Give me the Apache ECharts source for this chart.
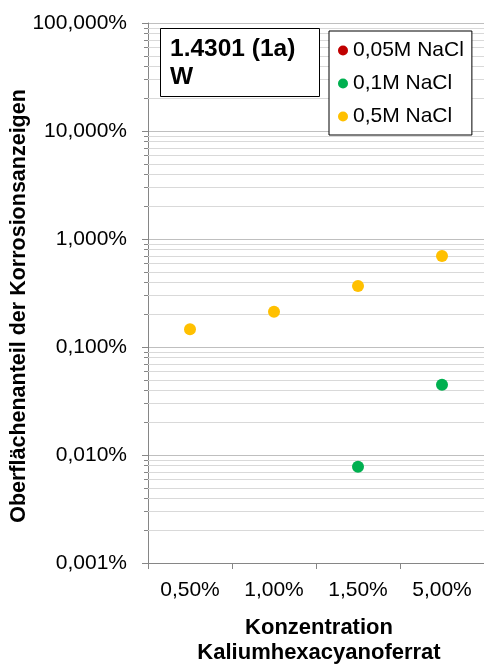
<!DOCTYPE html>
<html><head><meta charset="utf-8">
<script src="https://cdn.jsdelivr.net/npm/echarts@6/dist/echarts.min.js"></script>
<style>html,body{margin:0;padding:0;background:#fff}#c{width:484px;height:666px}</style>
</head><body><div id="c"></div>
<script>
// ---- data ----
const categories = ['0,50%', '1,00%', '1,50%', '5,00%'];
const seriesNames = ['0,05M NaCl', '0,1M NaCl', '0,5M NaCl'];
const nacl005 = [null, null, null, null];            // no visible points
const nacl01  = [null, null, 0.000078, 0.000448];    // fraction (0.0078%, 0.0448%)
const nacl05  = [0.00146, 0.00212, 0.00367, 0.00697];
const yMin = 0.00001, yMax = 1;
const decades = [0.00001, 0.0001, 0.001, 0.01, 0.1];
const minorMultipliers = [2, 3, 4, 5, 6, 7, 8, 9];
const titleText = '1.4301 (1a)\nW';
const yTitle = 'Oberflächenanteil der Korrosionsanzeigen';
const xTitle = 'Konzentration\nKaliumhexacyanoferrat';

const colors = ['#C00000', '#00B050', '#FFC000'];
const FONT = '"Liberation Sans", Arial, sans-serif';
const minorValues = [];
decades.forEach(d => minorMultipliers.forEach(m => minorValues.push([0, d * m])));

const chart = echarts.init(document.getElementById('c'), null, {renderer: 'canvas'});
chart.setOption({
  animation: false,
  backgroundColor: '#fff',
  textStyle: {fontFamily: FONT},
  grid: {left: 148, top: 23, right: -2.5, bottom: 103, containLabel: false},
  title: {
    text: titleText, left: 160, top: 28,
    backgroundColor: '#fff', borderColor: '#000', borderWidth: 1,
    padding: [7, 24, 6, 10],
    textStyle: {fontFamily: FONT, fontSize: 24.5, fontWeight: 'bold', lineHeight: 28, color: '#000'}
  },
  legend: {
    data: seriesNames, orient: 'vertical', left: 329, top: 31,
    icon: 'circle', itemWidth: 10, itemHeight: 10, itemGap: 10,
    backgroundColor: '#fff', borderColor: '#000', borderWidth: 1,
    padding: [8, 8, 7, 9],
    textStyle: {fontFamily: FONT, fontSize: 21, lineHeight: 23, color: '#000'}
  },
  xAxis: {
    type: 'category', data: categories, boundaryGap: true,
    axisLine: {lineStyle: {color: '#868686'}},
    axisTick: {show: true, alignWithLabel: false, length: 6, lineStyle: {color: '#868686'}},
    axisLabel: {fontFamily: FONT, fontSize: 21, color: '#000', margin: 17},
    splitLine: {show: false}
  },
  yAxis: {
    type: 'log', logBase: 10, min: yMin, max: yMax,
    axisLine: {show: true, lineStyle: {color: '#868686'}},
    axisTick: {show: true, length: 6, lineStyle: {color: '#868686'}},
    axisLabel: {
      fontFamily: FONT, fontSize: 21, color: '#000', margin: 21,
      formatter: v => (v * 100).toFixed(3).replace('.', ',') + '%'
    },
    splitLine: {show: true, lineStyle: {color: '#bfbfbf', width: 1}}
  },
  graphic: [
    {type: 'text', x: 19, y: 306, rotation: Math.PI / 2,
     style: {text: yTitle, fontFamily: FONT, fontSize: 21.5, fontWeight: 'bold', fill: '#000',
             align: 'center', verticalAlign: 'middle'}},
    {type: 'text', x: 319, y: 640,
     style: {text: xTitle, fontFamily: FONT, fontSize: 22, fontWeight: 'bold', fill: '#000',
             lineHeight: 25, align: 'center', verticalAlign: 'middle'}}
  ],
  series: [
    {
      type: 'custom', silent: true, z: 1, clip: false,
      encode: {x: 0, y: 1},
      data: minorValues,
      renderItem: function (params, api) {
        const cs = params.coordSys;
        const y = Math.round(api.coord([0, api.value(1)])[1]) + 0.5;
        return {type: 'group', children: [
          {type: 'line', shape: {x1: cs.x, y1: y, x2: cs.x + cs.width, y2: y},
           style: {stroke: '#d9d9d9', lineWidth: 1}},
          {type: 'line', shape: {x1: cs.x - 4, y1: y, x2: cs.x, y2: y},
           style: {stroke: '#868686', lineWidth: 1}}
        ]};
      }
    },
    {name: seriesNames[0], type: 'scatter', data: nacl005, symbolSize: 12, itemStyle: {color: colors[0], opacity: 1}, z: 3},
    {name: seriesNames[1], type: 'scatter', data: nacl01, symbolSize: 12, itemStyle: {color: colors[1], opacity: 1}, z: 3},
    {name: seriesNames[2], type: 'scatter', data: nacl05, symbolSize: 12, itemStyle: {color: colors[2], opacity: 1}, z: 3}
  ]
});
</script>
</body></html>
